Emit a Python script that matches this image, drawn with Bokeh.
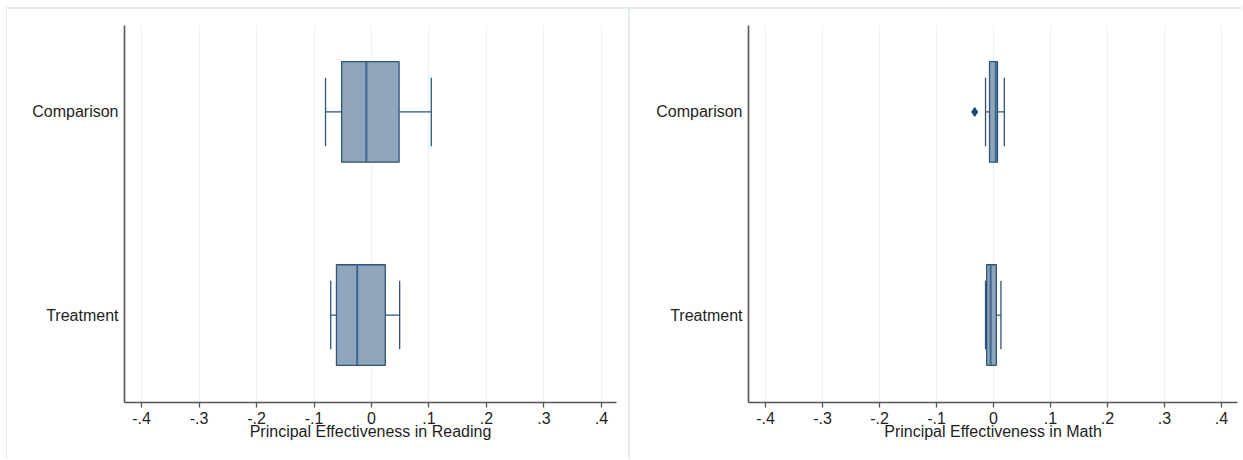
from bokeh.plotting import figure
from bokeh.layouts import row
from bokeh.models import FixedTicker, Range1d, ColumnDataSource
from bokeh.embed import file_html
from bokeh.resources import INLINE

# ---- data ----
categories = ["Treatment", "Comparison"]
cat_pos = [0, 1]

reading_lo = [-0.071, -0.080]
reading_q1 = [-0.061, -0.052]
reading_med = [-0.025, -0.009]
reading_q3 = [0.024, 0.048]
reading_hi = [0.049, 0.104]
reading_out_cat = []
reading_out_val = []

math_lo = [-0.014, -0.014]
math_q1 = [-0.012, -0.007]
math_med = [-0.005, 0.004]
math_q3 = [0.005, 0.007]
math_hi = [0.013, 0.019]
math_out_cat = ["Comparison"]
math_out_val = [-0.033]

x_ticks = [-0.4, -0.3, -0.2, -0.1, 0.0, 0.1, 0.2, 0.3, 0.4]
x_tick_labels = ["-.4", "-.3", "-.2", "-.1", "0", ".1", ".2", ".3", ".4"]

FONT = "Liberation Sans"
TXT = "#1e1e1e"
FILL = "#8ea5bb"
EDGE = "#2f5478"
MED = "#3d6890"
GRID = "#e9f1f3"
AXIS = "#555555"
BORDER = "#e4ecef"

BOX_H = 0.495
CAP_H = 0.337


def panel(title, lo, q1, med, q3, hi, out_cat, out_val, width, mb_left, mb_right,
          x_start, x_end, styles):
    p = figure(width=width, height=452, output_backend="svg", toolbar_location=None,
               x_range=Range1d(x_start, x_end), y_range=Range1d(-0.4307, 1.4257),
               min_border_left=mb_left, min_border_right=mb_right,
               min_border_top=16, min_border_bottom=59)
    p.styles = styles
    p.outline_line_color = None
    p.background_fill_color = "white"
    p.border_fill_color = "white"

    ypos = [cat_pos[categories.index(c)] for c in categories]
    src = ColumnDataSource(dict(y=ypos, lo=lo, q1=q1, med=med, q3=q3, hi=hi,
                                yb=[v - BOX_H / 2 for v in ypos],
                                yt=[v + BOX_H / 2 for v in ypos],
                                cb=[v - CAP_H / 2 for v in ypos],
                                ct=[v + CAP_H / 2 for v in ypos]))
    # whiskers
    p.segment(x0="lo", x1="q1", y0="y", y1="y", source=src, line_color=EDGE, line_width=1.3)
    p.segment(x0="q3", x1="hi", y0="y", y1="y", source=src, line_color=EDGE, line_width=1.3)
    # caps
    p.segment(x0="lo", x1="lo", y0="cb", y1="ct", source=src, line_color=EDGE, line_width=1.3)
    p.segment(x0="hi", x1="hi", y0="cb", y1="ct", source=src, line_color=EDGE, line_width=1.3)
    # boxes
    p.quad(left="q1", right="q3", bottom="yb", top="yt", source=src,
           fill_color=FILL, line_color=EDGE, line_width=1.3)
    # medians
    p.segment(x0="med", x1="med", y0="yb", y1="yt", source=src, line_color=MED, line_width=2)
    # outliers
    if out_val:
        oy = [cat_pos[categories.index(c)] for c in out_cat]
        p.scatter(x=out_val, y=oy, marker="diamond", size=9,
                  fill_color="#1a476f", line_color="#1a476f")

    # x axis
    xa = p.xaxis[0]
    xa.ticker = FixedTicker(ticks=x_ticks)
    xa.major_label_overrides = {t: l for t, l in zip(x_ticks, x_tick_labels)}
    xa.axis_label = title
    xa.axis_label_text_font = FONT
    xa.axis_label_text_font_style = "normal"
    xa.axis_label_text_font_size = "16px"
    xa.axis_label_text_color = TXT
    xa.axis_label_standoff = -4
    xa.major_label_text_font = FONT
    xa.major_label_text_font_size = "16px"
    xa.major_label_text_color = TXT
    xa.major_label_standoff = 4
    xa.major_tick_out = 5
    xa.major_tick_in = 0
    xa.minor_tick_out = 0
    xa.minor_tick_in = 0
    xa.axis_line_color = AXIS
    xa.axis_line_width = 1.3
    xa.major_tick_line_color = AXIS
    xa.major_tick_line_width = 1.3

    # y axis
    ya = p.yaxis[0]
    ya.ticker = FixedTicker(ticks=cat_pos)
    ya.major_label_overrides = {cat_pos[i]: categories[i] for i in range(len(categories))}
    ya.major_label_text_font = FONT
    ya.major_label_text_font_size = "16px"
    ya.major_label_text_color = TXT
    ya.major_label_standoff = 6
    ya.major_tick_out = 0
    ya.major_tick_in = 0
    ya.minor_tick_out = 0
    ya.minor_tick_in = 0
    ya.axis_line_color = AXIS
    ya.axis_line_width = 1.6

    p.xgrid.grid_line_color = GRID
    p.xgrid.grid_line_width = 1
    p.ygrid.grid_line_color = None
    return p


left = panel("Principal Effectiveness in Reading", reading_lo, reading_q1, reading_med,
             reading_q3, reading_hi, reading_out_cat, reading_out_val,
             width=624, mb_left=117, mb_right=15, x_start=-0.4298, x_end=0.4263,
             styles={"border-left": f"1px solid {BORDER}", "border-top": f"2px solid {BORDER}",
                     "border-right": f"2px solid {BORDER}", "box-sizing": "border-box"})
right = panel("Principal Effectiveness in Math", math_lo, math_q1, math_med,
              math_q3, math_hi, math_out_cat, math_out_val,
              width=612, mb_left=118, mb_right=5, x_start=-0.4298, x_end=0.428,
              styles={"border-top": f"2px solid {BORDER}", "box-sizing": "border-box"})

layout = row(left, right, spacing=0, margin=(7, 0, 0, 6))
open("out.html", "w").write(file_html(layout, INLINE))
